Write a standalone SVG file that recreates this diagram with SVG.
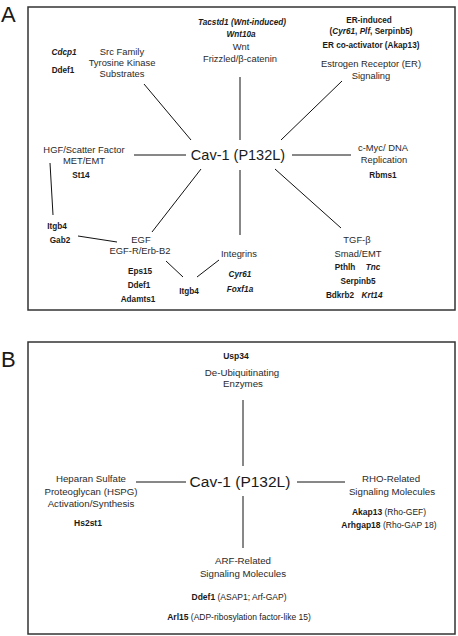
<svg xmlns="http://www.w3.org/2000/svg" width="458" height="636" viewBox="0 0 458 636">
<style>
text{font-family:"Liberation Sans",Arial,sans-serif;fill:#1a1a1a}
.lbl{font-size:22px}
.frame{fill:none;stroke:#333;stroke-width:1.5}
.n{font-size:9.4px;text-anchor:middle;fill:#2a2a2a}
.nb{font-size:9.7px;text-anchor:middle;fill:#2a2a2a}
.g{font-size:8.2px;font-weight:bold;text-anchor:middle}
.gb{font-size:8.5px;text-anchor:middle}
.i{font-style:italic}
.b{font-weight:bold}
.hub{font-size:14.5px;text-anchor:middle}
.hubB{font-size:15.5px;text-anchor:middle}
.e line{stroke:#111;stroke-width:1}
</style>
<rect width="458" height="636" fill="#fff"/>
<text class="lbl" x="1" y="22">A</text>
<text class="lbl" x="1" y="367">B</text>
<rect class="frame" x="28" y="7" width="427" height="303"/>
<rect class="frame" x="28" y="342" width="427" height="292"/>

<g id="connectors-A" class="e">
<line x1="144" y1="84" x2="191" y2="140"/>
<line x1="240" y1="77" x2="240" y2="140"/>
<line x1="342" y1="81" x2="281" y2="140"/>
<line x1="134" y1="155" x2="186" y2="155"/>
<line x1="292" y1="155" x2="351" y2="155"/>
<line x1="152" y1="232" x2="201" y2="169"/>
<line x1="240" y1="170" x2="240" y2="235"/>
<line x1="275" y1="169" x2="341" y2="228"/>
<line x1="50" y1="163" x2="53" y2="215"/>
<line x1="78" y1="236" x2="117" y2="242"/>
<line x1="166" y1="261" x2="183" y2="277"/>
<line x1="197" y1="277" x2="219" y2="260"/>
</g>

<g id="A-hub"><text class="hub" x="238" y="160">Cav-1 (P132L)</text></g>
<g id="A-src">
<text class="n" x="122" y="55">Src Family</text>
<text class="n" x="122" y="66">Tyrosine Kinase</text>
<text class="n" x="122" y="77">Substrates</text>
<text class="g i" x="64" y="55">Cdcp1</text>
<text class="g" x="63" y="73">Ddef1</text>
</g>
<g id="A-wnt">
<text class="g i" x="242" y="25">Tacstd1 (Wnt-induced)</text>
<text class="g i" x="241" y="37">Wnt10a</text>
<text class="n" x="241" y="50">Wnt</text>
<text class="n" x="240" y="62">Frizzled/β-catenin</text>
</g>
<g id="A-er">
<text class="g" x="369" y="23">ER-induced</text>
<text class="g" x="371" y="34">(<tspan class="i">Cyr61</tspan>, <tspan class="i">Plf</tspan>, Serpinb5)</text>
<text class="g" x="371" y="48">ER co-activator (Akap13)</text>
<text class="n" x="371" y="67">Estrogen Receptor (ER)</text>
<text class="n" x="371" y="79">Signaling</text>
</g>
<g id="A-hgf">
<text class="n" x="84" y="153">HGF/Scatter Factor</text>
<text class="n" x="84" y="164">MET/EMT</text>
<text class="g" x="81" y="178">St14</text>
</g>
<g id="A-myc">
<text class="n" x="383" y="151">c-Myc/ DNA</text>
<text class="n" x="384" y="163">Replication</text>
<text class="g" x="383" y="178">Rbms1</text>
</g>
<g id="A-itgb4-left">
<text class="g" x="57" y="229">Itgb4</text>
<text class="g" x="60" y="243">Gab2</text>
</g>
<g id="A-egf">
<text class="n" x="141" y="243">EGF</text>
<text class="n" x="140" y="254">EGF-R/Erb-B2</text>
<text class="g" x="140" y="274">Eps15</text>
<text class="g" x="139" y="288">Ddef1</text>
<text class="g" x="138" y="302">Adamts1</text>
</g>
<g id="A-itgb4-mid"><text class="g" x="189" y="294">Itgb4</text></g>
<g id="A-integrins">
<text class="n" x="239" y="257">Integrins</text>
<text class="g i" x="240" y="277">Cyr61</text>
<text class="g i" x="240" y="292">Foxf1a</text>
</g>
<g id="A-tgf">
<text class="n" x="357" y="243">TGF-β</text>
<text class="n" x="358" y="257">Smad/EMT</text>
<text class="g" x="345" y="270">Pthlh</text>
<text class="g i" x="373" y="270">Tnc</text>
<text class="g" x="358" y="284">Serpinb5</text>
<text class="g" x="340" y="298">Bdkrb2</text>
<text class="g i" x="372" y="298">Krt14</text>
</g>

<g id="connectors-B" class="e">
<line x1="243" y1="400" x2="243" y2="466"/>
<line x1="136" y1="482" x2="186" y2="482"/>
<line x1="297" y1="482" x2="345" y2="482"/>
<line x1="243" y1="496" x2="243" y2="548"/>
</g>

<g id="B-hub"><text class="hubB" x="240" y="487">Cav-1 (P132L)</text></g>
<g id="B-dub">
<text class="gb b" x="236" y="359">Usp34</text>
<text class="nb" x="242" y="376">De-Ubiquitinating</text>
<text class="nb" x="243" y="387">Enzymes</text>
</g>
<g id="B-hspg">
<text class="nb" x="91" y="482">Heparan Sulfate</text>
<text class="nb" x="91" y="495">Proteoglycan (HSPG)</text>
<text class="nb" x="91" y="507">Activation/Synthesis</text>
<text class="gb b" x="88" y="526">Hs2st1</text>
</g>
<g id="B-rho">
<text class="nb" x="391" y="482">RHO-Related</text>
<text class="nb" x="392" y="495">Signaling Molecules</text>
<text class="gb" x="389" y="515"><tspan class="b">Akap13</tspan> (Rho-GEF)</text>
<text class="gb" x="389" y="528"><tspan class="b">Arhgap18</tspan> (Rho-GAP 18)</text>
</g>
<g id="B-arf">
<text class="nb" x="243" y="564">ARF-Related</text>
<text class="nb" x="243" y="577">Signaling Molecules</text>
<text class="gb" x="239" y="600"><tspan class="b">Ddef1</tspan> (ASAP1; Arf-GAP)</text>
<text class="gb" x="239" y="620"><tspan class="b">Arl15</tspan> (ADP-ribosylation factor-like 15)</text>
</g>
</svg>
